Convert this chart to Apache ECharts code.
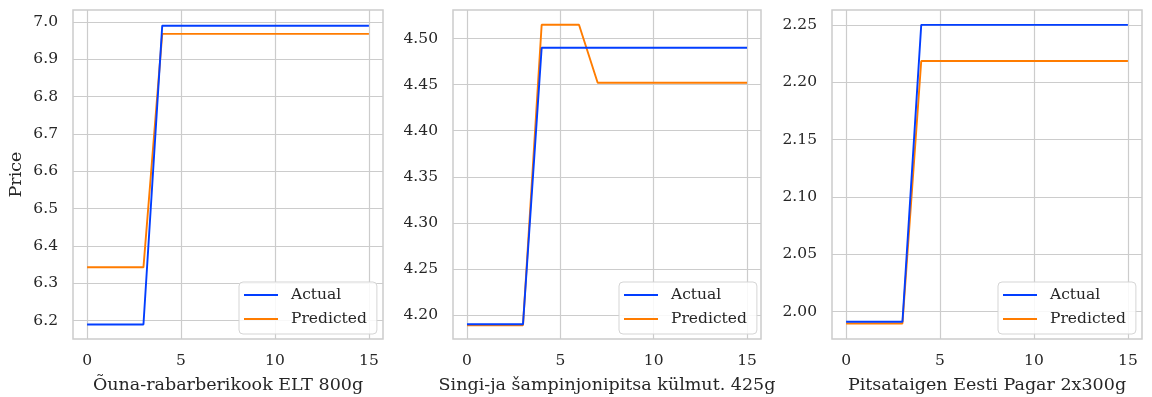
<!DOCTYPE html>
<html>
<head>
<meta charset="utf-8">
<script src="https://cdn.jsdelivr.net/npm/echarts@6/dist/echarts.min.js"></script>
<style>
  html, body { margin: 0; padding: 0; background: #ffffff; }
  #chart { width: 1152px; height: 397px; }
</style>
</head>
<body>
<div id="chart"></div>
<script>
// Weekly step index shared by all three products
const steps = [0, 1, 2, 3, 4, 5, 6, 7, 8, 9, 10, 11, 12, 13, 14, 15];

const productNames = [
  'Õuna-rabarberikook ELT 800g',
  'Singi-ja šampinjonipitsa külmut. 425g',
  'Pitsataigen Eesti Pagar 2x300g'
];

// Price per step, actual and model prediction
const actualApple =    [6.19, 6.19, 6.19, 6.19, 6.99, 6.99, 6.99, 6.99, 6.99, 6.99, 6.99, 6.99, 6.99, 6.99, 6.99, 6.99];
const predictedApple = [6.343, 6.343, 6.343, 6.343, 6.968, 6.968, 6.968, 6.968, 6.968, 6.968, 6.968, 6.968, 6.968, 6.968, 6.968, 6.968];

const actualPizza =    [4.19, 4.19, 4.19, 4.19, 4.49, 4.49, 4.49, 4.49, 4.49, 4.49, 4.49, 4.49, 4.49, 4.49, 4.49, 4.49];
const predictedPizza = [4.189, 4.189, 4.189, 4.189, 4.515, 4.515, 4.515, 4.452, 4.452, 4.452, 4.452, 4.452, 4.452, 4.452, 4.452, 4.452];

const actualDough =    [1.991, 1.991, 1.991, 1.991, 2.25, 2.25, 2.25, 2.25, 2.25, 2.25, 2.25, 2.25, 2.25, 2.25, 2.25, 2.25];
const predictedDough = [1.9895, 1.9895, 1.9895, 1.9895, 2.2185, 2.2185, 2.2185, 2.2185, 2.2185, 2.2185, 2.2185, 2.2185, 2.2185, 2.2185, 2.2185, 2.2185];

// Tick labels
const xTicks = [0, 5, 10, 15];
const yTicksApple = [6.2, 6.3, 6.4, 6.5, 6.6, 6.7, 6.8, 6.9, 7.0];
const yTicksPizza = [4.20, 4.25, 4.30, 4.35, 4.40, 4.45, 4.50];
const yTicksDough = [2.00, 2.05, 2.10, 2.15, 2.20, 2.25];

const panels = [
  { actual: actualApple, predicted: predictedApple, ticks: yTicksApple, digits: 1, yMin: 6.151, yMax: 7.032, yName: 'Price' },
  { actual: actualPizza, predicted: predictedPizza, ticks: yTicksPizza, digits: 2, yMin: 4.174, yMax: 4.531, yName: '' },
  { actual: actualDough, predicted: predictedDough, ticks: yTicksDough, digits: 2, yMin: 1.976, yMax: 2.263, yName: '' }
];

const FONT = 'DejaVu Serif';
const TEXT = '#262626';
const GRIDC = '#cccccc';
const BLUE = '#023eff';
const ORANGE = '#ff7c00';

const gridBoxes = [
  { left: 73, width: 310 },
  { left: 453, width: 308 },
  { left: 832, width: 310 }
];
const legendLeft = [239, 619, 998];

const pairs = (ys) => steps.map((x, i) => [x, ys[i]]);

const grid = [], xAxis = [], yAxis = [], series = [], legend = [];

panels.forEach((p, i) => {
  grid.push({
    left: gridBoxes[i].left, width: gridBoxes[i].width, top: 10, height: 329,
    outerBoundsMode: 'none', containLabel: false,
    show: true, borderColor: GRIDC, borderWidth: 1.5, backgroundColor: '#ffffff'
  });
  xAxis.push({
    gridIndex: i, type: 'value', min: -0.75, max: 15.75,
    name: productNames[i], nameLocation: 'middle', nameGap: 37,
    nameTextStyle: { fontFamily: FONT, fontSize: 17.5, color: TEXT },
    axisLine: { show: false },
    axisTick: { show: false, customValues: xTicks },
    axisLabel: { customValues: xTicks, margin: 14, fontFamily: FONT, fontSize: 15.5, color: TEXT },
    splitLine: { show: true, lineStyle: { color: GRIDC, width: 1.2 } }
  });
  yAxis.push({
    gridIndex: i, type: 'value', min: p.yMin, max: p.yMax,
    name: p.yName, nameLocation: 'middle', nameGap: 48,
    nameTextStyle: { fontFamily: FONT, fontSize: 17.5, color: TEXT },
    axisLine: { show: false },
    axisTick: { show: false, customValues: p.ticks },
    axisLabel: {
      customValues: p.ticks, margin: 15, fontFamily: FONT, fontSize: 15.5, color: TEXT,
      formatter: (v) => v.toFixed(p.digits)
    },
    splitLine: { show: true, lineStyle: { color: GRIDC, width: 1.2 } }
  });
  series.push({
    name: 'Actual', type: 'line', xAxisIndex: i, yAxisIndex: i,
    data: pairs(p.actual), symbol: 'none', color: BLUE,
    lineStyle: { color: BLUE, width: 1.9 }, z: 3
  });
  series.push({
    name: 'Predicted', type: 'line', xAxisIndex: i, yAxisIndex: i,
    data: pairs(p.predicted), symbol: 'none', color: ORANGE,
    lineStyle: { color: ORANGE, width: 1.9 }, z: 2
  });
  legend.push({
    data: ['Actual', 'Predicted'], orient: 'vertical',
    left: legendLeft[i], top: 282,
    icon: 'rect', itemWidth: 34, itemHeight: 2,
    padding: [5, 10, 7, 5], itemGap: 8,
    backgroundColor: 'rgba(255,255,255,0.85)', borderColor: '#d5d5d5', borderWidth: 1, borderRadius: 4,
    textStyle: { fontFamily: FONT, fontSize: 15.5, color: TEXT, padding: [0, 0, 0, 8] },
    selectedMode: false, z: 10
  });
});

const chart = echarts.init(document.getElementById('chart'), null, { renderer: 'canvas' });
chart.setOption({
  animation: false,
  backgroundColor: '#ffffff',
  grid, xAxis, yAxis, series, legend
});
</script>
</body>
</html>
